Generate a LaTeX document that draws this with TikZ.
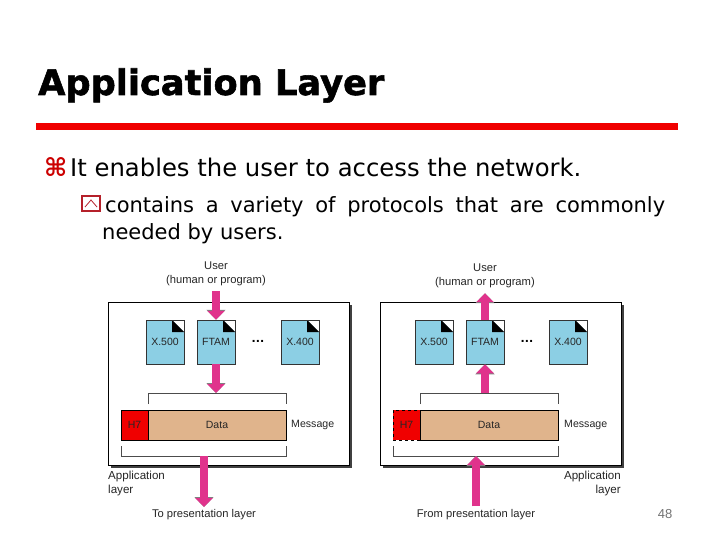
\documentclass[tikz,border=0pt]{standalone}
\usepackage{fontspec}
\setmainfont{DejaVu Sans}
\newfontfamily\titlefont[FakeBold=1.6]{DejaVu Sans Bold}
\newfontfamily\labelfont{Liberation Sans}
\usetikzlibrary{arrows.meta,calc}
\definecolor{docblue}{HTML}{8CCFE4}
\definecolor{datatan}{HTML}{E0B48C}
\definecolor{arrowpink}{HTML}{E0338C}
\definecolor{barred}{HTML}{F00000}
\definecolor{bulletred}{HTML}{B5202A}
\begin{document}
\begin{tikzpicture}[x=1pt,y=-1pt,
  lbl/.style={font=\labelfont\fontsize{11.2}{14}\selectfont,text=black!85,inner sep=0pt,align=center},
  sidelbl/.style={font=\labelfont\fontsize{11.6}{14}\selectfont,text=black!85,inner sep=0pt},
  doc/.style={draw=black!80,line width=.5pt,fill=docblue,minimum width=38pt,minimum height=44pt,inner sep=0pt,
    font=\labelfont\fontsize{10.5}{12}\selectfont,text=black!85,
    path picture={
      \fill[white] ($(path picture bounding box.north east)+(-12pt,0)$) -- (path picture bounding box.north east) -- ++(0,-12pt) -- cycle;
      \fill[black] ($(path picture bounding box.north east)+(-12pt,0)$) -- ++(12pt,-12pt) -- ++(-12pt,0) -- cycle;
    }},
  layerbox/.style={draw=black,line width=.6pt,fill=white,minimum width=241pt,minimum height=163pt,inner sep=0pt},
  shadowbox/.style={fill=black!75,minimum width=241pt,minimum height=163pt,inner sep=0pt},
  datafield/.style={draw=black,line width=.5pt,fill=datatan,minimum width=138pt,minimum height=30pt,
    font=\labelfont\fontsize{10.5}{12}\selectfont,text=black!85,inner sep=0pt},
  hfield/.style={draw=black,line width=.5pt,fill=barred,minimum width=27pt,minimum height=30pt,
    font=\labelfont\fontsize{10.5}{12}\selectfont,text=black!85,inner sep=0pt},
  bracket/.style={draw=black!70,line width=.5pt},
  blockarrow/.style={arrowpink,line width=7.5pt,-{Triangle[width=17pt,length=9pt]},
    preaction={draw=black!50,line width=8.3pt,-{Triangle[width=18.5pt,length=10pt]}}},
  bodytext/.style={anchor=base west,inner sep=0pt}]
\useasboundingbox (0,0) rectangle (720,540);
\fill[white] (0,0) rectangle (720,540);

% title and text
\node[anchor=base west,inner sep=0pt,font=\titlefont\fontsize{35.2}{40}\selectfont] (title) at (38,95) {Application Layer};
\fill[barred] (36,123) rectangle (678,130);
\node[anchor=base west,inner sep=0pt,text=barred!85!black,font=\bfseries\fontsize{25}{28}\selectfont] (cmd) at (44,177) {⌘};
\node[bodytext,font=\fontsize{24.3}{28}\selectfont] (line1) at (70,177) {It enables the user to access the network.};
\node[bodytext,font=\fontsize{21}{24}\selectfont] (line2) at (105,212) {\makebox[560pt][s]{contains a variety of protocols that are commonly}};
\node[bodytext,font=\fontsize{21}{24}\selectfont] (line3) at (102,240) {needed by users.};
\draw[bulletred,line width=1.2pt] (82,196) rectangle (100,211);
\draw[bulletred,line width=.8pt] (85,207) -- (91,200) -- (97,207);

% left: sending side
\node[shadowbox] at (231.5,386.5) {};
\node[layerbox] (box1) at (228.5,383.5) {};
\node[lbl] (user1) at (216,274) {User\\(human or program)};
\node[doc] (xf1) at (165,342) {X.500};
\node[doc] (ftam1) at (216,342) {FTAM};
\node[doc] (xc1) at (300,342) {X.400};
\node[font=\bfseries\fontsize{11}{12}\selectfont,inner sep=0pt] (dots1) at (258,341) {...};
\node[datafield] (data1) at (217,425) {Data};
\node[hfield] (head1) at (134.5,425) {H7};
\node[lbl,anchor=west,font=\labelfont\fontsize{10.6}{12}\selectfont] (msg1) at (291,425) {Message};
\coordinate (top1) at (216,393);
\coordinate (bot1) at (204,456);
\coordinate (out1) at (204,507);
\draw[bracket] (148,404) -- (148,393) -- (286,393) -- (286,404);
\draw[bracket] (121,446) -- (121,456) -- (286,456) -- (286,446);
\draw[blockarrow,shorten <=5pt] (user1.south) -- (ftam1.north);
\draw[blockarrow] (ftam1.south) -- (top1);
\draw[blockarrow] (bot1) -- (out1);
\node[sidelbl,anchor=north west,align=left] (app1) at (108,471) {Application\\layer};
\node[lbl] (pres1) at (204,515) {To presentation layer};

% right: receiving side
\node[shadowbox] at (503.5,386.5) {};
\node[layerbox] (box2) at (500.5,383.5) {};
\node[lbl] (user2) at (485,276) {User\\(human or program)};
\node[doc] (xf2) at (434,342) {X.500};
\node[doc] (ftam2) at (485,342) {FTAM};
\node[doc] (xc2) at (568,342) {X.400};
\node[font=\bfseries\fontsize{11}{12}\selectfont,inner sep=0pt] (dots2) at (527,341) {...};
\node[datafield] (data2) at (489,425) {Data};
\node[hfield,dashed] (head2) at (406.5,425) {H7};
\node[lbl,anchor=west,font=\labelfont\fontsize{10.6}{12}\selectfont] (msg2) at (564,425) {Message};
\coordinate (top2) at (485,393);
\coordinate (bot2) at (476,456);
\coordinate (in2) at (476,506);
\draw[bracket] (420,404) -- (420,393) -- (558,393) -- (558,404);
\draw[bracket] (393,446) -- (393,456) -- (558,456) -- (558,446);
\draw[blockarrow,shorten >=5pt] (ftam2.north) -- (user2.south);
\draw[blockarrow] (top2) -- (ftam2.south);
\draw[blockarrow] (in2) -- (bot2);
\node[sidelbl,anchor=north east,align=right] (app2) at (621,471) {Application\\layer};
\node[lbl] (pres2) at (476,515) {From presentation layer};

\node[lbl,text=black!55,font=\labelfont\fontsize{13}{14}\selectfont] (page) at (665,514) {48};
\end{tikzpicture}
\end{document}
